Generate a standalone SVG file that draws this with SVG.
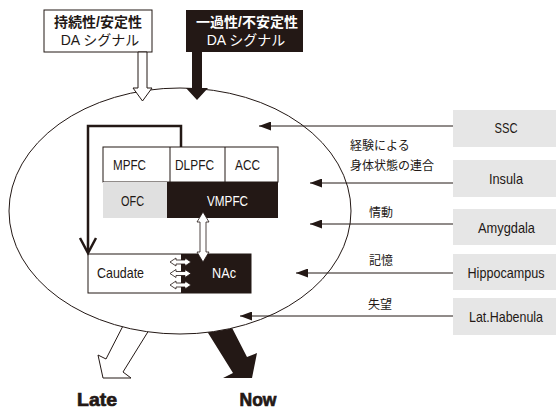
<svg xmlns="http://www.w3.org/2000/svg" width="556" height="411" viewBox="0 0 556 411">
<style>
.k{fill:#231815}
.w{fill:#ffffff}
.ln{stroke:#231815;stroke-width:1;fill:none}
.bx{stroke:#231815;stroke-width:1}
.lat{font-family:"Liberation Sans",Arial,sans-serif;font-size:14.5px;fill:#231815}
.jp{font-family:"Noto Sans CJK JP","Liberation Sans",sans-serif;font-size:12px;fill:#231815}
.top{font-family:"Liberation Sans","Noto Sans CJK JP",sans-serif;font-size:14px}
.big{font-family:"Liberation Sans",Arial,sans-serif;font-size:19px;font-weight:bold;fill:#231815;stroke:#231815;stroke-width:0.7}
.gr{fill:#e6e6e6}
</style>
<defs>
<marker id="tri" viewBox="0 0 12 9" markerWidth="12" markerHeight="9" refX="12" refY="4.5" orient="auto" markerUnits="userSpaceOnUse">
<path d="M0,0 L12,4.5 L0,9 z" fill="#231815"/>
</marker>
</defs>

<!-- bottom output arrows (drawn under ellipse) -->
<g id="out-arrows">
<polygon points="126,320 106,359 98,355 103,378 131,378 123,372 154,322" fill="#ffffff" stroke="#231815" stroke-width="1"/>
<polygon points="200,320 233,373 223,378 252,378 257,353 247,357 228,320" fill="#231815"/>
</g>

<g id="ellipse">
<ellipse cx="180" cy="211" rx="171" ry="123" fill="#ffffff" stroke="#231815" stroke-width="1"/>
</g>

<g id="node-stable">
<rect x="44" y="10" width="108" height="42" fill="#ffffff" class="bx"/>
<text x="98" y="27" text-anchor="middle" class="top" font-weight="bold" fill="#231815">持続性/安定性</text>
<text x="100" y="45" text-anchor="middle" class="top" fill="#231815">DA シグナル</text>
</g>
<g id="node-phasic">
<rect x="186" y="10" width="117" height="42" class="k"/>
<text x="247" y="27" text-anchor="middle" class="top" font-weight="bold" fill="#ffffff">一過性/不安定性</text>
<text x="246" y="45" text-anchor="middle" class="top" fill="#ffffff">DA シグナル</text>
</g>

<g id="pfc">
<rect x="103" y="147" width="175" height="35" class="w bx"/>
<line x1="170" y1="147" x2="170" y2="182" class="ln"/>
<line x1="225" y1="147" x2="225" y2="182" class="ln"/>
<rect x="103" y="182" width="64" height="36" fill="#e0e0e0"/>
<rect x="167" y="182" width="111" height="36" class="k"/>
<text x="129.5" y="169.5" text-anchor="middle" class="lat" textLength="33" lengthAdjust="spacingAndGlyphs">MPFC</text>
<text x="194.5" y="169.5" text-anchor="middle" class="lat" textLength="39" lengthAdjust="spacingAndGlyphs">DLPFC</text>
<text x="247.5" y="169.5" text-anchor="middle" class="lat" textLength="25" lengthAdjust="spacingAndGlyphs">ACC</text>
<text x="132.5" y="205.5" text-anchor="middle" class="lat" textLength="23" lengthAdjust="spacingAndGlyphs">OFC</text>
<text x="227.5" y="205.5" text-anchor="middle" class="lat" style="fill:#ffffff" textLength="41" lengthAdjust="spacingAndGlyphs">VMPFC</text>
</g>

<g id="striatum">
<rect x="88" y="254" width="163" height="39" class="w bx"/>
<rect x="181" y="254" width="70" height="39" class="k"/>
<text x="97" y="278" class="lat" textLength="47" lengthAdjust="spacingAndGlyphs">Caudate</text>
<text x="224" y="278" text-anchor="middle" class="lat" style="fill:#ffffff" textLength="24" lengthAdjust="spacingAndGlyphs">NAc</text>
</g>

<g id="node-ssc"><rect x="453" y="110" width="103" height="37" class="gr"/><text x="506" y="133" text-anchor="middle" class="lat" textLength="23" lengthAdjust="spacingAndGlyphs">SSC</text></g>
<g id="node-insula"><rect x="453" y="160" width="103" height="37" class="gr"/><text x="506" y="183.5" text-anchor="middle" class="lat" textLength="34" lengthAdjust="spacingAndGlyphs">Insula</text></g>
<g id="node-amygdala"><rect x="453" y="209" width="103" height="36" class="gr"/><text x="506.5" y="232.5" text-anchor="middle" class="lat" textLength="57" lengthAdjust="spacingAndGlyphs">Amygdala</text></g>
<g id="node-hippocampus"><rect x="453" y="254" width="103" height="36" class="gr"/><text x="506" y="277.5" text-anchor="middle" class="lat" textLength="77" lengthAdjust="spacingAndGlyphs">Hippocampus</text></g>
<g id="node-habenula"><rect x="453" y="298" width="103" height="37" class="gr"/><text x="506" y="321.5" text-anchor="middle" class="lat" textLength="74" lengthAdjust="spacingAndGlyphs">Lat.Habenula</text></g>

<g id="connectors">
<!-- top DA arrows -->
<polygon points="138,52 147,52 147,88 152,88 142.5,101 133,88 138,88" fill="#ffffff" stroke="#231815" stroke-width="1"/>
<polygon points="192,52 202,52 202,88 208,88 197,100 186,88 192,88" fill="#231815"/>
<!-- loop from DLPFC to caudate -->
<path d="M181,147 V126 H88 V252" fill="none" stroke="#231815" stroke-width="2.5"/>
<path d="M80,238 L88,253 L96,238" fill="none" stroke="#231815" stroke-width="2.5"/>
<!-- VMPFC <-> NAc -->
<polygon points="203,212 209,222 206,222 206,252 209,252 203,262 197,252 200,252 200,222 197,222" fill="#ffffff" stroke="#231815" stroke-width="0.8"/>
<!-- caudate <-> NAc small arrows -->
<polygon points="170,262 176,258 176,260 185,260 185,258 191,262 185,266 185,264 176,264 176,266" fill="#ffffff" stroke="#231815" stroke-width="0.8"/>
<polygon points="170,273.5 176,269.5 176,271.5 185,271.5 185,269.5 191,273.5 185,277.5 185,275.5 176,275.5 176,277.5" fill="#ffffff" stroke="#231815" stroke-width="0.8"/>
<polygon points="170,285 176,281 176,283 185,283 185,281 191,285 185,289 185,287 176,287 176,289" fill="#ffffff" stroke="#231815" stroke-width="0.8"/>
<!-- inputs -->
<line x1="453" y1="126" x2="259" y2="126" stroke="#231815" stroke-width="1" marker-end="url(#tri)"/>
<line x1="453" y1="183" x2="310" y2="183" stroke="#231815" stroke-width="1" marker-end="url(#tri)"/>
<line x1="453" y1="224" x2="310" y2="224" stroke="#231815" stroke-width="1" marker-end="url(#tri)"/>
<line x1="453" y1="273" x2="296" y2="273" stroke="#231815" stroke-width="1" marker-end="url(#tri)"/>
<line x1="453" y1="316" x2="240" y2="316" stroke="#231815" stroke-width="1" marker-end="url(#tri)"/>
<text x="350" y="150" class="jp">経験による</text>
<text x="350" y="170" class="jp">身体状態の連合</text>
<text x="369" y="217" class="jp">情動</text>
<text x="369" y="265" class="jp">記憶</text>
<text x="368" y="309" class="jp">失望</text>
</g>

<g id="node-late"><text x="97" y="406" text-anchor="middle" class="big" textLength="40" lengthAdjust="spacingAndGlyphs">Late</text></g>
<g id="node-now"><text x="258" y="406" text-anchor="middle" class="big" textLength="37" lengthAdjust="spacingAndGlyphs">Now</text></g>
</svg>
